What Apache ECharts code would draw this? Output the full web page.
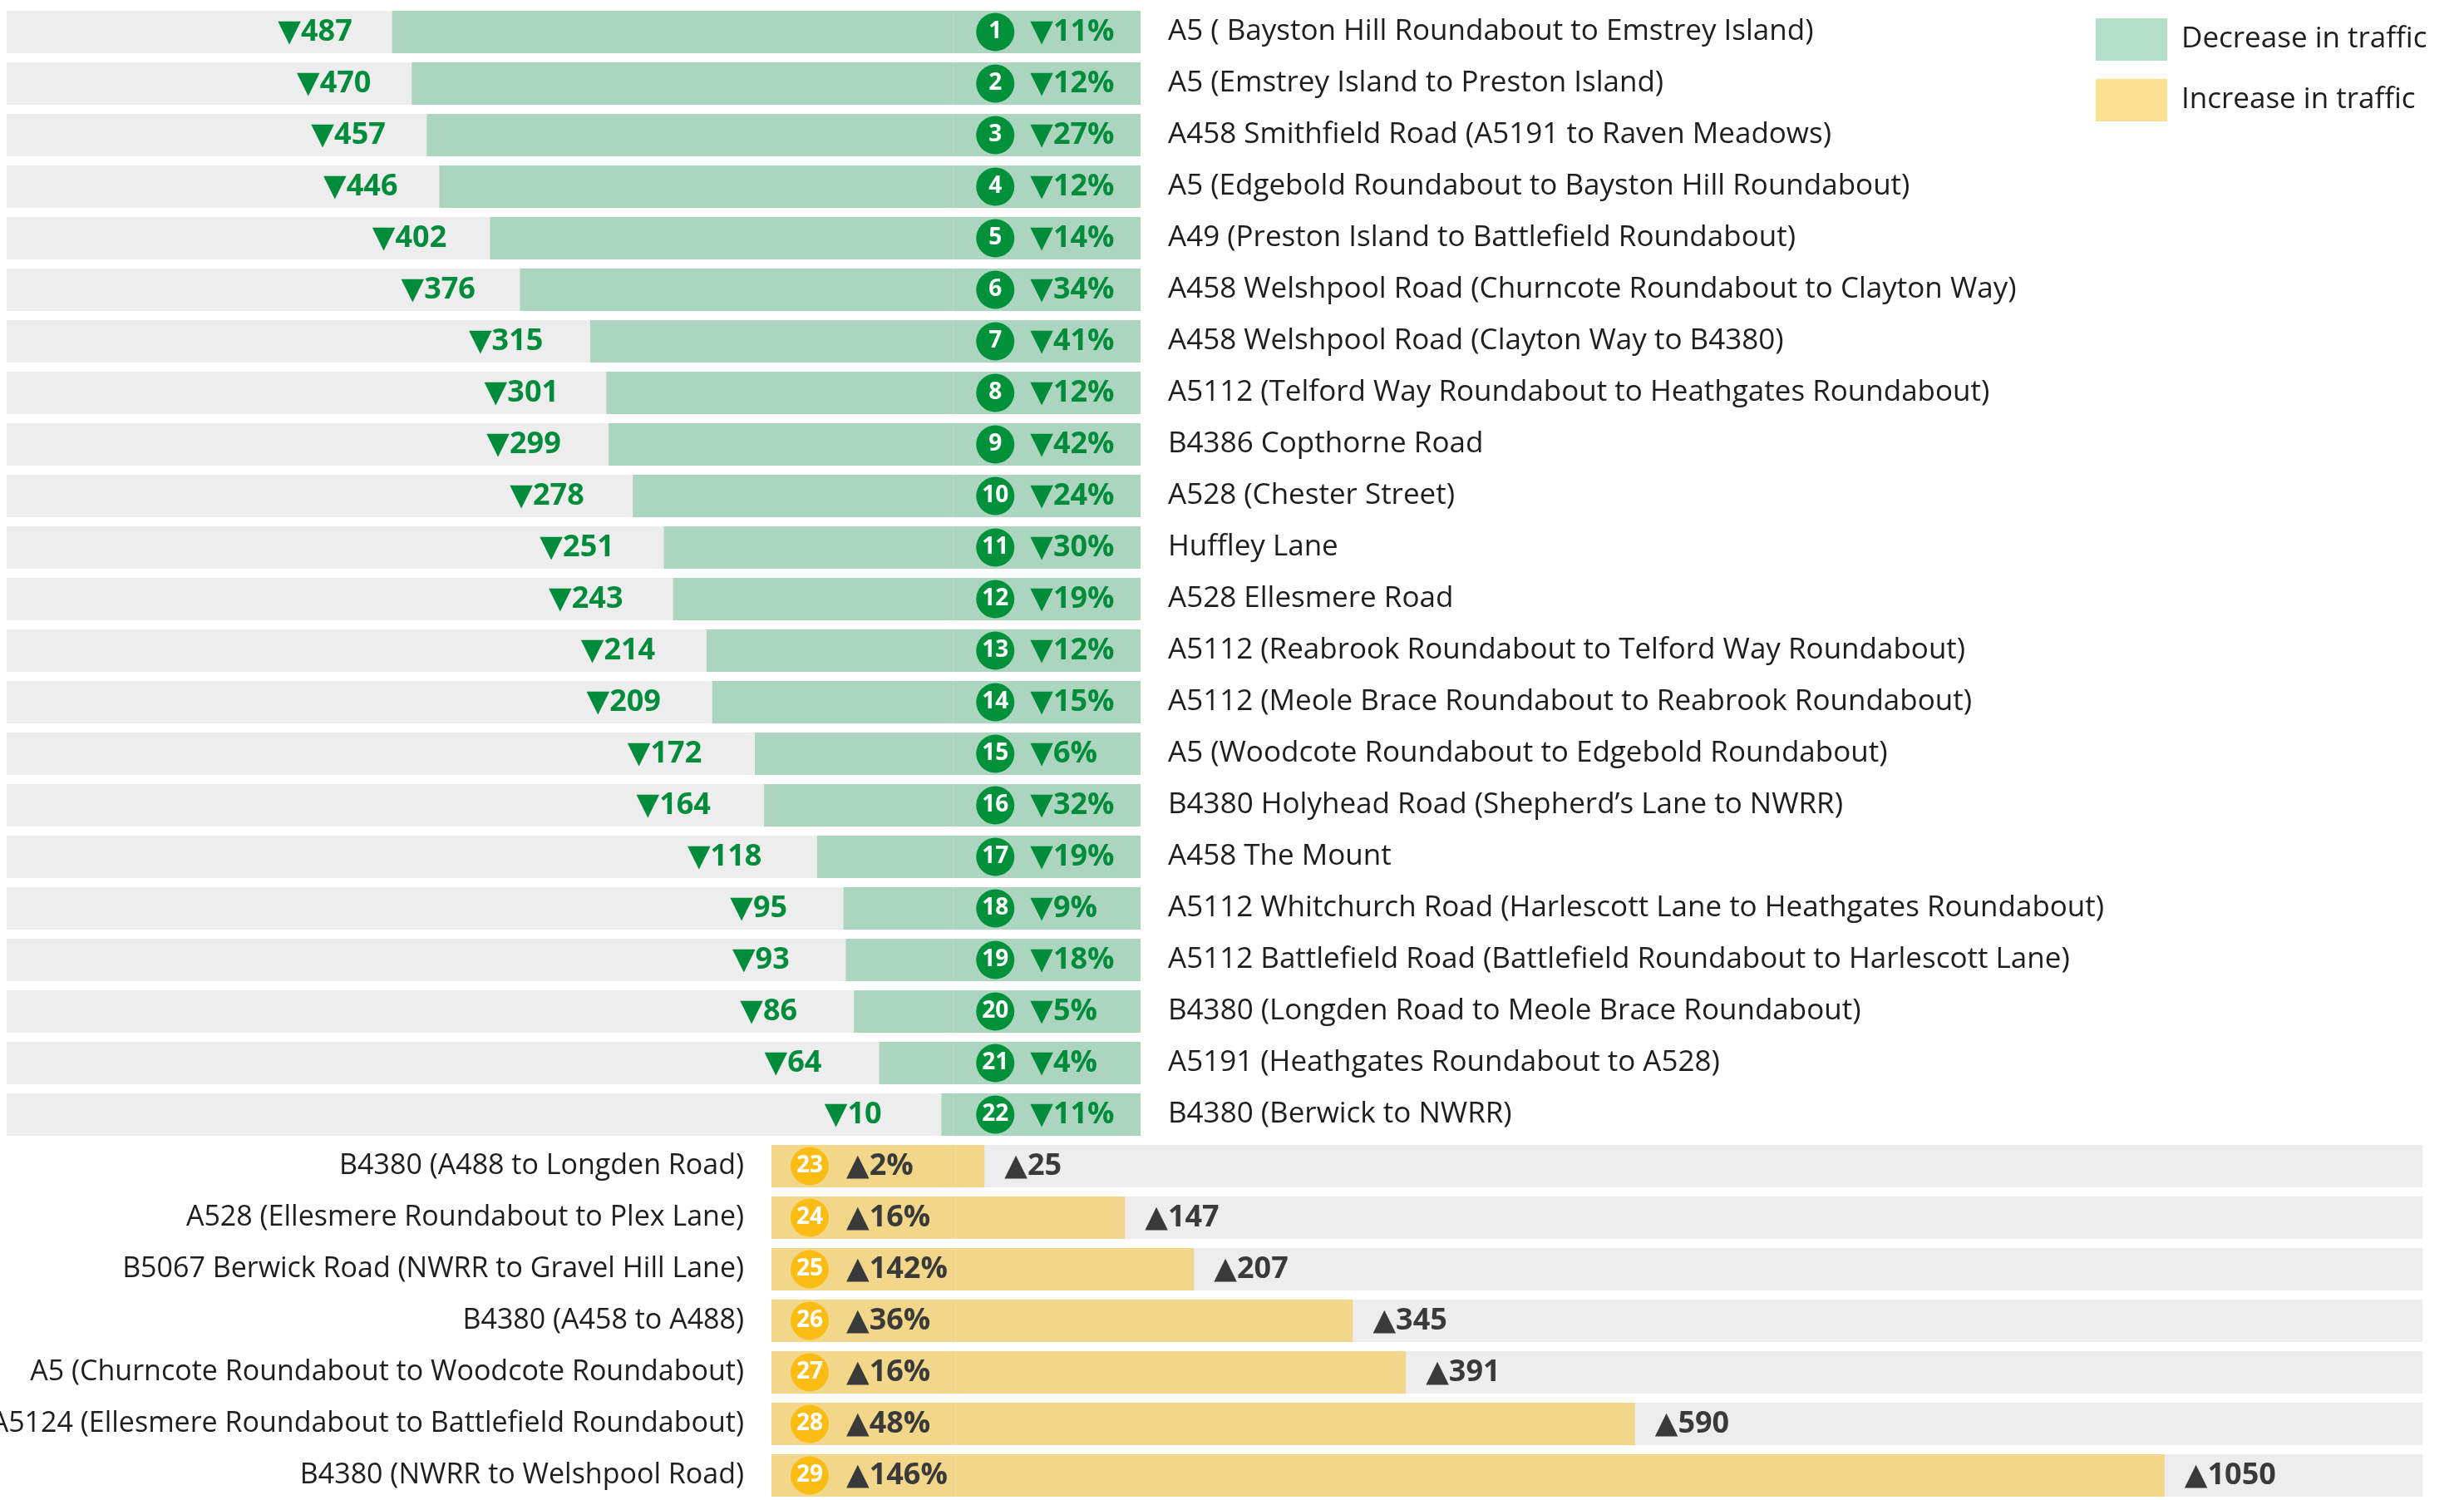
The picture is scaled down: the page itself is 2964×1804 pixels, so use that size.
<!DOCTYPE html>
<html>
<head>
<meta charset="utf-8">
<script src="https://cdn.jsdelivr.net/npm/echarts@6/dist/echarts.min.js"></script>
<style>
html, body { margin: 0; padding: 0; background: #fff; }
#chart { width: 2964px; height: 1804px; }
</style>
</head>
<body>
<div id="chart"></div>
<script>
// roads where traffic went down (rank 1..22)
const decNames = [
    'A5 ( Bayston Hill Roundabout to Emstrey Island)',
    'A5 (Emstrey Island to Preston Island)',
    'A458 Smithfield Road (A5191 to Raven Meadows)',
    'A5 (Edgebold Roundabout to Bayston Hill Roundabout)',
    'A49 (Preston Island to Battlefield Roundabout)',
    'A458 Welshpool Road (Churncote Roundabout to Clayton Way)',
    'A458 Welshpool Road (Clayton Way to B4380)',
    'A5112 (Telford Way Roundabout to Heathgates Roundabout)',
    'B4386 Copthorne Road',
    'A528 (Chester Street)',
    'Huffley Lane',
    'A528 Ellesmere Road',
    'A5112 (Reabrook Roundabout to Telford Way Roundabout)',
    'A5112 (Meole Brace Roundabout to Reabrook Roundabout)',
    'A5 (Woodcote Roundabout to Edgebold Roundabout)',
    'B4380 Holyhead Road (Shepherd’s Lane to NWRR)',
    'A458 The Mount',
    'A5112 Whitchurch Road (Harlescott Lane to Heathgates Roundabout)',
    'A5112 Battlefield Road (Battlefield Roundabout to Harlescott Lane)',
    'B4380 (Longden Road to Meole Brace Roundabout)',
    'A5191 (Heathgates Roundabout to A528)',
    'B4380 (Berwick to NWRR)'
];
const decValues = [487, 470, 457, 446, 402, 376, 315, 301, 299, 278, 251, 243, 214, 209, 172, 164, 118, 95, 93, 86, 64, 10];
const decPct = [11, 12, 27, 12, 14, 34, 41, 12, 42, 24, 30, 19, 12, 15, 6, 32, 19, 9, 18, 5, 4, 11];

// roads where traffic went up (rank 23..29)
const incNames = [
    'B4380 (A488 to Longden Road)',
    'A528 (Ellesmere Roundabout to Plex Lane)',
    'B5067 Berwick Road (NWRR to Gravel Hill Lane)',
    'B4380 (A458 to A488)',
    'A5 (Churncote Roundabout to Woodcote Roundabout)',
    'A5124 (Ellesmere Roundabout to Battlefield Roundabout)',
    'B4380 (NWRR to Welshpool Road)'
];
const incValues = [25, 147, 207, 345, 391, 590, 1050];
const incPct = [2, 16, 142, 36, 16, 48, 146];

const legendNames = ['Decrease in traffic', 'Increase in traffic'];

// layout
const FONT = '"Open Sans", "DejaVu Sans", sans-serif';
const PX_PER_UNIT = 1.385;
const PAD_DEC = 163;       // fixed part of each bar that holds the rank circle and %
const PAD_INC = 160;
const ROW = 62;
const BAR_H = 51;
const green = '#acd5bf';
const yellow = '#f2d78a';
const darkGreen = '#008c3a';
const darkText = '#3a3a3a';
const nameStyle = { fontFamily: FONT, fontSize: 35, fontWeight: 'normal', color: '#1e1e1e' };

const decW = 1364, incW = 1986;
const topA = 7.5;
const topB = topA + decValues.length * ROW;

const chart = echarts.init(document.getElementById('chart'));

const circleRich = (bg) => ({
    c: {
        width: 46, height: 46, lineHeight: 46, borderRadius: 23,
        backgroundColor: bg, color: '#fff', align: 'center',
        fontFamily: FONT, fontSize: 28, fontWeight: 'bold'
    }
});

const option = {
    animation: false,
    backgroundColor: '#fff',
    legend: {
        data: [
            { name: legendNames[0], itemStyle: { color: '#b3dec8' } },
            { name: legendNames[1], itemStyle: { color: '#fbdf92' } }
        ],
        orient: 'vertical',
        left: 2521,
        top: 22,
        padding: 0,
        icon: 'rect',
        itemWidth: 86,
        itemHeight: 51,
        itemGap: 22,
        selectedMode: false,
        textStyle: Object.assign({}, nameStyle, { padding: [0, 0, 0, 12] })
    },
    // labels may run off the canvas (row 28), so don't let the grid shrink for them
    grid: [
        { left: 8, top: topA, width: decW, height: decValues.length * ROW, containLabel: false, outerBoundsMode: 'none' },
        { left: 928, top: topB, width: incW, height: incValues.length * ROW, containLabel: false, outerBoundsMode: 'none' }
    ],
    xAxis: [
        { gridIndex: 0, type: 'value', inverse: true, min: 0, max: decW / PX_PER_UNIT, show: false },
        { gridIndex: 1, type: 'value', min: 0, max: incW / PX_PER_UNIT, show: false }
    ],
    yAxis: [
        {
            gridIndex: 0, type: 'category', data: decNames, inverse: true, position: 'right',
            axisLine: { show: false }, axisTick: { show: false },
            axisLabel: Object.assign({ interval: 0, margin: 33 }, nameStyle)
        },
        {
            gridIndex: 1, type: 'category', data: incNames, inverse: true, position: 'left',
            axisLine: { show: false }, axisTick: { show: false },
            axisLabel: Object.assign({ interval: 0, margin: 33 }, nameStyle, { fontSize: 34 })
        }
    ],
    series: [
        {
            name: 'decPad', type: 'bar', stack: 'dec', xAxisIndex: 0, yAxisIndex: 0,
            barWidth: BAR_H, silent: true,
            data: decValues.map(() => PAD_DEC),
            itemStyle: { color: green },
            showBackground: true,
            backgroundStyle: { color: '#ededed' },
            label: {
                show: true, position: 'insideLeft', distance: 28,
                formatter: (p) => '{c|' + (p.dataIndex + 1) + '}{p|▼' + decPct[p.dataIndex] + '%}',
                rich: Object.assign(circleRich('#00913a'), {
                    p: { padding: [0, 0, 0, 19], fontFamily: FONT, fontSize: 36, fontWeight: 'bold', color: darkGreen }
                })
            }
        },
        {
            name: legendNames[0], type: 'bar', stack: 'dec', xAxisIndex: 0, yAxisIndex: 0,
            barWidth: BAR_H, silent: true,
            data: decValues.map((v) => ({
                value: v,
                label: { distance: 48 + (487 - v) * 0.05 }
            })),
            itemStyle: { color: green },
            label: {
                show: true, position: 'left',
                formatter: (p) => '▼' + p.value,
                fontFamily: FONT, fontSize: 36, fontWeight: 'bold', color: darkGreen
            }
        },
        {
            name: 'incPad', type: 'bar', stack: 'inc', xAxisIndex: 1, yAxisIndex: 1,
            barWidth: BAR_H, silent: true,
            data: incValues.map(() => PAD_INC),
            itemStyle: { color: yellow },
            showBackground: true,
            backgroundStyle: { color: '#ededed' },
            label: {
                show: true, position: 'insideLeft', distance: 23,
                formatter: (p) => '{c|' + (p.dataIndex + 1 + decValues.length) + '}{p|▲' + incPct[p.dataIndex] + '%}',
                rich: Object.assign(circleRich('#fbbd14'), {
                    p: { padding: [0, 0, 0, 21], fontFamily: FONT, fontSize: 36, fontWeight: 'bold', color: darkText }
                })
            }
        },
        {
            name: legendNames[1], type: 'bar', stack: 'inc', xAxisIndex: 1, yAxisIndex: 1,
            barWidth: BAR_H, silent: true,
            data: incValues,
            itemStyle: { color: yellow },
            label: {
                show: true, position: 'right', distance: 24,
                formatter: (p) => '▲' + p.value,
                fontFamily: FONT, fontSize: 36, fontWeight: 'bold', color: darkText
            }
        }
    ]
};

chart.setOption(option);
</script>
</body>
</html>
